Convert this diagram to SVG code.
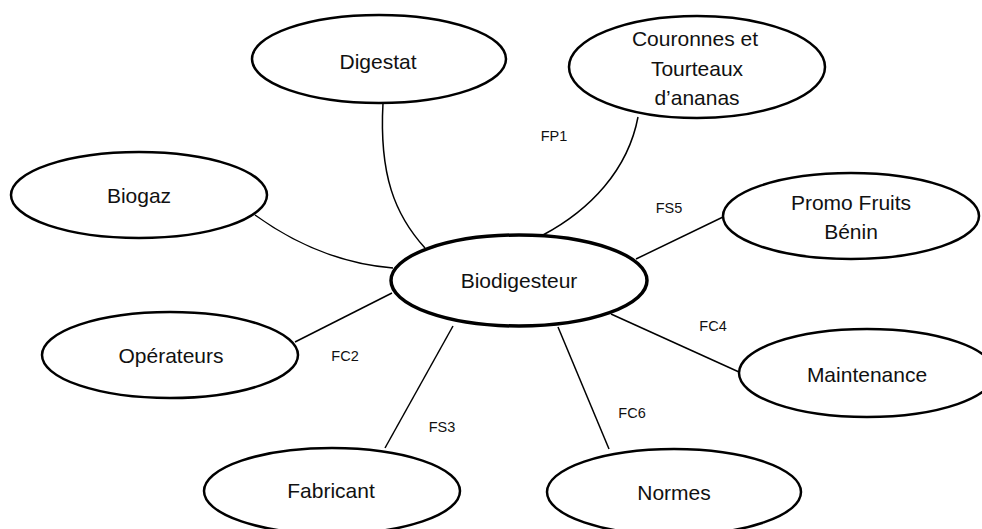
<svg xmlns="http://www.w3.org/2000/svg" width="982" height="529" viewBox="0 0 982 529">
  <style>
    .node ellipse { fill: #ffffff; stroke: #000000; stroke-width: 2.5; }
    #n-biodigesteur ellipse { stroke-width: 3.5; }
    .node text { font-family: "Liberation Sans", Arial, sans-serif; font-size: 21px; fill: #111111; text-anchor: middle; }
    .links path, .links line { fill: none; stroke: #000000; stroke-width: 1.5; }
    .tag { font-family: "Liberation Sans", Arial, sans-serif; font-size: 14.5px; fill: #111111; text-anchor: middle; }
  </style>
  <rect width="982" height="529" fill="#ffffff"/>

  <!-- connectors from the central element to its environment -->
  <g class="links" id="connectors">
    <path d="M383,103 C379,175 395,215 425,248"/>
    <path d="M638,117 C628,170 590,210 543,235"/>
    <path d="M255,215 Q320,262 393,268"/>
    <line x1="295" y1="342" x2="392" y2="293"/>
    <line x1="636" y1="259" x2="723" y2="217"/>
    <line x1="611" y1="314" x2="739" y2="372"/>
    <line x1="453" y1="326" x2="385" y2="448"/>
    <line x1="558" y1="327" x2="609" y2="449"/>
    <text class="tag" x="554" y="141">FP1</text>
    <text class="tag" x="669" y="213">FS5</text>
    <text class="tag" x="713" y="331">FC4</text>
    <text class="tag" x="345" y="361">FC2</text>
    <text class="tag" x="442" y="432">FS3</text>
    <text class="tag" x="632" y="418">FC6</text>
  </g>

  <g class="node" id="n-digestat">
    <ellipse cx="379" cy="59" rx="127" ry="44"/>
    <text x="378" y="69">Digestat</text>
  </g>
  <g class="node" id="n-couronnes">
    <ellipse cx="697" cy="67" rx="128" ry="51"/>
    <text x="695" y="46">Couronnes et</text>
    <text x="697" y="76">Tourteaux</text>
    <text x="697" y="105">d’ananas</text>
  </g>
  <g class="node" id="n-biogaz">
    <ellipse cx="139" cy="195" rx="128" ry="43"/>
    <text x="139" y="203">Biogaz</text>
  </g>
  <g class="node" id="n-promo">
    <ellipse cx="851" cy="216" rx="128" ry="43"/>
    <text x="851" y="210">Promo Fruits</text>
    <text x="851" y="239">Bénin</text>
  </g>
  <g class="node" id="n-biodigesteur">
    <ellipse cx="519" cy="280.5" rx="128" ry="45.5"/>
    <text x="519" y="288">Biodigesteur</text>
  </g>
  <g class="node" id="n-operateurs">
    <ellipse cx="170" cy="355" rx="128" ry="43"/>
    <text x="171" y="363">Opérateurs</text>
  </g>
  <g class="node" id="n-maintenance">
    <ellipse cx="867" cy="373" rx="128" ry="44"/>
    <text x="867" y="382">Maintenance</text>
  </g>
  <g class="node" id="n-fabricant">
    <ellipse cx="332" cy="491" rx="128" ry="43"/>
    <text x="331" y="498">Fabricant</text>
  </g>
  <g class="node" id="n-normes">
    <ellipse cx="674" cy="492" rx="127" ry="43"/>
    <text x="674" y="500">Normes</text>
  </g>
</svg>
